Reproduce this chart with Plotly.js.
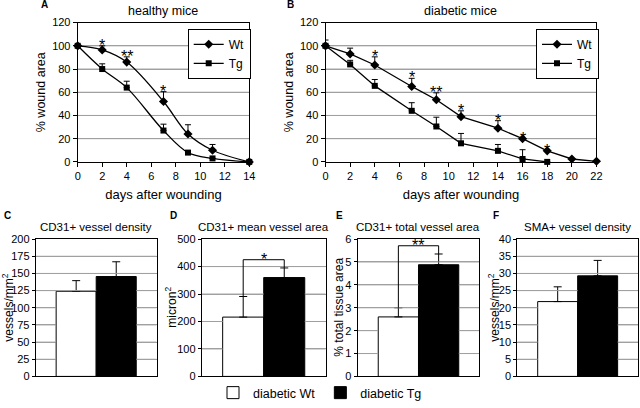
<!DOCTYPE html>
<html>
<head>
<meta charset="utf-8">
<script src="https://cdn.plot.ly/plotly-3.0.1.min.js"></script>
<style>html,body{margin:0;padding:0;background:#fff}#chart{width:640px;height:408px}</style>
</head>
<body>
<div id="chart"></div>
<script>
// ---- Panel A: healthy mice ----
const daysA = [0, 2, 4, 7, 9, 11, 14];
const wtA = [100, 96.5, 86, 52, 24, 10, 0];
const wtAerr = [null, 3.5, 4.5, 8.5, 8, 5, null];
const tgA = [100, 80, 64, 27, 8, 3, 0];
const tgAerr = [null, 4.5, 5.5, 5.5, null, null, null];
const sigA = ['', '*', '**', '*', '', '', ''];

// ---- Panel B: diabetic mice ----
const daysWtB = [0, 2, 4, 7, 9, 11, 14, 16, 18, 20, 22];
const wtB = [100, 93, 83.5, 65, 53.5, 39, 29, 20, 9.5, 2.5, 0.5];
const wtBerr = [5, 5, 7, 7, 6, 5, 6.5, null, null, null, null];
const daysTgB = [0, 2, 4, 7, 9, 11, 14, 16, 18];
const tgB = [100, 84, 65.5, 44, 30.5, 16, 9.5, 2.5, 0];
const tgBerr = [null, 3.5, 5.5, 7, 8, 8.5, 5.5, 8, null];
const sigB = ['', '', '*', '*', '**', '*', '*', '*', '*', '', ''];

// ---- Bar panels C-F ----
const groups = ['diabetic Wt', 'diabetic Tg'];
const panelTitles = ['CD31+ vessel density', 'CD31+ mean vessel area', 'CD31+ total vessel area', 'SMA+ vessel density'];
const panelLetters = ['C', 'D', 'E', 'F'];
const yTitles = ['vessels/mm<sup>2</sup>', 'micron<sup>2</sup>', '% total tissue area', 'vessels/mm<sup>2</sup>'];
const yMax = [200, 500, 6, 40];
const yDtick = [25, 100, 1, 5];
const valC = [124, 145.5], errC = [15.5, 21.5];
const valD = [216, 360], errD = [75, 35];
const valE = [2.6, 4.88], errE = [0.4, 0.47];
const valF = [21.8, 29.3], errF = [4.3, 4.5];
const sigBars = ['', '*', '**', ''];

const barVals = [valC, valD, valE, valF];
const barErrs = [errC, errD, errE, errF];

const FONT = 'Liberation Sans, Arial, sans-serif';
const GRID = '#a0a0a0';
const STAR = {size: 16, color: 'black', family: FONT};
const fixErr = a => a.map(v => (v === null ? NaN : v));
const zeros = n => new Array(n).fill(0);

// domains (paper)
const topY = [0.5963, 0.9436];
const botY = [0.0613, 0.4037];
const domX = [[0.1214, 0.3895], [0.5086, 0.9320]];
const barDomX = [[0.0558, 0.2448], [0.3152, 0.5089], [0.5589, 0.7489], [0.8083, 0.9969]];
const barRange = [-1.01, 2.01];
const rangesTop = [[0, 14], [0, 22]];

const gridTraces = [];
const traces = [];

// horizontal gridlines at the y tick values, split where a bar covers them
function gridTrace(xa, ya, xr, maxV, step, bars) {
  const gx = [], gy = [];
  for (let v = step; v < maxV - step / 2; v += step) {
    const segs = [];
    if (!bars) {
      segs.push([xr[0], xr[1]]);
    } else {
      segs.push([xr[0], -0.5]);
      bars.forEach((b, g) => { if (v > b) segs.push([g - 0.5, g + 0.5]); });
      segs.push([bars.length - 0.5, xr[1]]);
    }
    segs.forEach(s => { gx.push(s[0], s[1], null); gy.push(v, v, null); });
  }
  gridTraces.push({type: 'scatter', mode: 'lines', x: gx, y: gy, xaxis: xa, yaxis: ya,
    showlegend: false, hoverinfo: 'skip', line: {color: GRID, width: 1}});
}

function lineTrace(x, y, err, name, symbol, size, shape, xa, ya, legend) {
  return {
    type: 'scatter', mode: 'lines+markers', x: x, y: y, name: name,
    xaxis: xa, yaxis: ya, legend: legend, cliponaxis: false,
    line: {color: 'black', width: 1.3, shape: shape, smoothing: 1},
    marker: {symbol: symbol, size: size, color: 'black'},
    error_y: {type: 'data', symmetric: false, array: fixErr(err), arrayminus: zeros(err.length),
              color: 'black', thickness: 1, width: 3}
  };
}
traces.push(lineTrace(daysA, wtA, wtAerr, 'Wt', 'diamond', 7, 'spline', 'x', 'y', 'legend'));
traces.push(lineTrace(daysA, tgA, tgAerr, 'Tg', 'square', 6, 'spline', 'x', 'y', 'legend'));
traces.push(lineTrace(daysWtB, wtB, wtBerr, 'Wt', 'diamond', 7, 'linear', 'x2', 'y2', 'legend2'));
traces.push(lineTrace(daysTgB, tgB, tgBerr, 'Tg', 'square', 6, 'linear', 'x2', 'y2', 'legend2'));
gridTrace('x', 'y', rangesTop[0], 120, 20, null);
gridTrace('x2', 'y2', rangesTop[1], 120, 20, null);

const fills = ['white', 'black'];
for (let p = 0; p < 4; p++) {
  const n = p + 3;
  for (let g = 0; g < 2; g++) {
    traces.push({
      type: 'bar', x: [g], y: [barVals[p][g]], name: groups[g], width: 1,
      xaxis: 'x' + n, yaxis: 'y' + n, legend: 'legend3', showlegend: p === 0,
      marker: {color: fills[g], line: {color: 'black', width: 1}},
      error_y: {type: 'data', symmetric: false, array: [barErrs[p][g]], arrayminus: [0],
                color: 'black', thickness: 1, width: 4}
    });
  }
  gridTrace('x' + n, 'y' + n, barRange, yMax[p], yDtick[p], barVals[p]);
}

const annotations = [];
const shapes = [];
function stars(xs, ys, errs, sig, xref, yref) {
  sig.forEach((s, i) => {
    if (!s) return;
    const e = errs[i] === null ? 0 : errs[i];
    annotations.push({text: s, x: xs[i], y: ys[i] + e, xref: xref, yref: yref,
      yanchor: 'bottom', showarrow: false, yshift: -10, font: STAR});
  });
}
stars(daysA, wtA, wtAerr, sigA, 'x', 'y');
stars(daysWtB, wtB, wtBerr, sigB, 'x2', 'y2');

function paperText(text, xPx, yPx, size, angle) {
  annotations.push({text: text, x: xPx / 640, y: 1 - yPx / 408, xref: 'paper', yref: 'paper',
    showarrow: false, xanchor: 'center', yanchor: 'middle', textangle: angle || 0, font: {size: size}});
}

const layout = {
  width: 640, height: 408,
  margin: {l: 0, r: 0, t: 0, b: 0},
  paper_bgcolor: 'white', plot_bgcolor: 'white',
  font: {family: FONT, color: 'black', size: 11},
  barmode: 'overlay',
  annotations: annotations, shapes: shapes,
  legend: {x: 0.2933, y: 0.9282, xanchor: 'left', yanchor: 'top', bgcolor: 'white',
           bordercolor: 'black', borderwidth: 1, font: {size: 12}, tracegroupgap: 0},
  legend2: {x: 0.8375, y: 0.9282, xanchor: 'left', yanchor: 'top', bgcolor: 'white',
            bordercolor: 'black', borderwidth: 1, font: {size: 12}},
  legend3: {orientation: 'h', x: 0.5, xanchor: 'center', y: 0.0196, yanchor: 'middle',
            font: {size: 12.5}, bgcolor: 'rgba(0,0,0,0)'}
};

const axBase = {showline: true, linecolor: 'black', linewidth: 1, mirror: true, zeroline: false,
                ticks: 'outside', ticklen: 4, tickcolor: 'black', tickfont: {size: 11}};
const titlesTop = ['healthy mice', 'diabetic mice'];
for (let i = 0; i < 2; i++) {
  const s = i === 0 ? '' : '2';
  layout['xaxis' + s] = Object.assign({}, axBase, {
    domain: domX[i], range: rangesTop[i], dtick: 2, anchor: 'y' + s, showgrid: false,
    title: {text: 'days after wounding', font: {size: 13}, standoff: 8}
  });
  layout['yaxis' + s] = Object.assign({}, axBase, {
    domain: topY, range: [0, 120], dtick: 20, anchor: 'x' + s, showgrid: true,
    gridcolor: GRID, gridwidth: 1,
    title: {text: '% wound area', font: {size: 12.5}, standoff: 3}
  });
  paperText(titlesTop[i], (domX[i][0] + domX[i][1]) * 320, 11, 12.5);
}
paperText('<b>A</b>', 44, 5, 10);
paperText('<b>B</b>', 290, 5, 10);

const letterX = [7, 173, 339, 496];
const yTitleX = [8, 171, 339, 494];
for (let p = 0; p < 4; p++) {
  const n = p + 3;
  layout['xaxis' + n] = Object.assign({}, axBase, {
    domain: barDomX[p], range: barRange, anchor: 'y' + n, showgrid: false,
    ticks: '', showticklabels: false
  });
  layout['yaxis' + n] = Object.assign({}, axBase, {
    domain: botY, range: [0, yMax[p]], dtick: yDtick[p], anchor: 'x' + n, showgrid: true,
    gridcolor: GRID, gridwidth: 1, ticklen: 3
  });
  paperText(yTitles[p], yTitleX[p], 313, 12, -90);
  paperText(panelTitles[p], (barDomX[p][0] + barDomX[p][1]) * 320, 231, 11.5);
  paperText('<b>' + panelLetters[p] + '</b>', letterX[p], 219, 10);
  if (sigBars[p]) {
    const wTop = barVals[p][0] + barErrs[p][0];
    const bTop = barVals[p][1] + barErrs[p][1];
    const lvl = Math.max(wTop, bTop) + 0.06 * yMax[p];
    shapes.push({type: 'path', xref: 'x' + n, yref: 'y' + n,
      path: 'M 0,' + wTop + ' L 0,' + lvl + ' L 1,' + lvl + ' L 1,' + bTop,
      line: {color: 'black', width: 1}});
    annotations.push({text: sigBars[p], x: 0.5, y: lvl, xref: 'x' + n, yref: 'y' + n,
      yanchor: 'bottom', showarrow: false, yshift: -10, font: STAR});
  }
}

Plotly.newPlot('chart', gridTraces.concat(traces), layout, {staticPlot: true, displayModeBar: false});
</script>
</body>
</html>
